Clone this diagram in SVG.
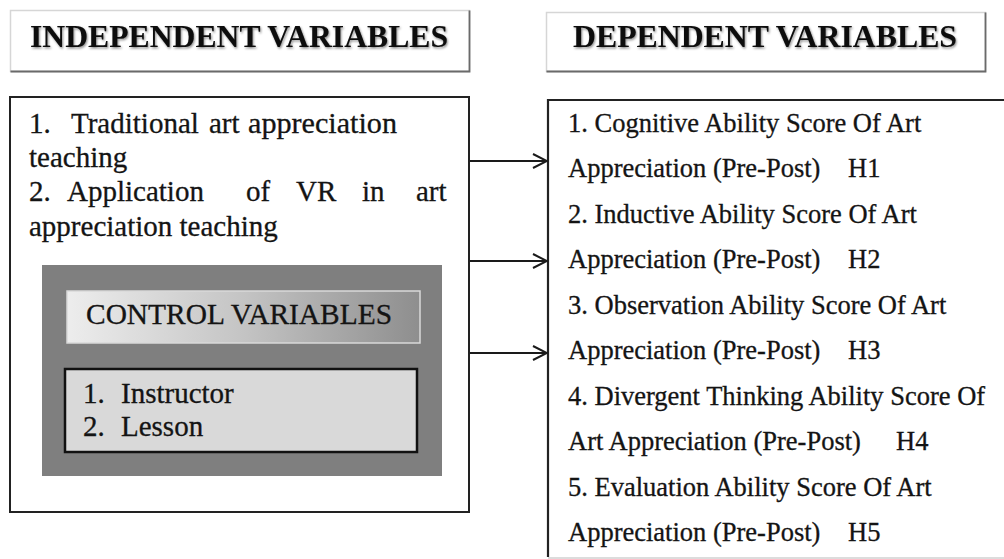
<svg xmlns="http://www.w3.org/2000/svg" width="1004" height="559" viewBox="0 0 1004 559">
<style>
.hdr{font-family:"Liberation Serif","Times New Roman",serif;font-weight:bold;font-size:30.5px;fill:#0a0a0a}
.body{font-family:"Liberation Serif","Times New Roman",serif;font-size:29px;fill:#141414;stroke:#141414;stroke-width:0.3}
.rt{font-family:"Liberation Serif","Times New Roman",serif;font-size:26.5px;fill:#141414;stroke:#141414;stroke-width:0.3}
.conn{stroke:#1a1a1a;stroke-width:2;fill:none}
</style>
<defs>
<linearGradient id="cvg" x1="0" y1="0" x2="1" y2="0">
<stop offset="0" stop-color="#ededed"/>
<stop offset="0.5" stop-color="#c4c4c4"/>
<stop offset="1" stop-color="#8e8e8e"/>
</linearGradient>
<filter id="sh" x="-5%" y="-20%" width="110%" height="140%">
<feDropShadow dx="1" dy="1.5" stdDeviation="1.2" flood-color="#000" flood-opacity="0.45"/>
</filter>
<marker id="arr" viewBox="0 0 16 16" refX="15" refY="8" markerWidth="16" markerHeight="16" markerUnits="userSpaceOnUse" orient="auto">
<path d="M1,1 L15,8 L1,15" fill="none" stroke="#1a1a1a" stroke-width="2"/>
</marker>
</defs>
<rect width="1004" height="559" fill="#fff"/>

<g id="independent-header">
<rect x="10.5" y="10.5" width="459" height="61" fill="#fff" stroke="#d6d6d6" stroke-width="1.5"/>
<path d="M10.5,71.5 H469.5 V10.5" fill="none" stroke="#6a6a6a" stroke-width="1.8"/>
<text class="hdr" x="30" y="47" textLength="418" lengthAdjust="spacingAndGlyphs" filter="url(#sh)">INDEPENDENT VARIABLES</text>
</g>

<g id="dependent-header">
<rect x="546.5" y="12.5" width="439" height="59" fill="#fff" stroke="#d6d6d6" stroke-width="1.5"/>
<path d="M546.5,71.5 H985.5 V12.5" fill="none" stroke="#6a6a6a" stroke-width="1.8"/>
<text class="hdr" x="573" y="47" textLength="384" lengthAdjust="spacingAndGlyphs" filter="url(#sh)">DEPENDENT VARIABLES</text>
</g>

<g id="independent-box">
<rect x="10" y="97" width="459" height="415" fill="#fff" stroke="#222" stroke-width="2"/>
<text class="body" x="29" y="133">1.</text>
<text class="body" x="71" y="133">Traditional</text>
<text class="body" x="209" y="133">art</text>
<text class="body" x="248" y="133" textLength="149" lengthAdjust="spacingAndGlyphs">appreciation</text>
<text class="body" x="29" y="167">teaching</text>
<text class="body" x="29" y="201">2.</text>
<text class="body" x="67" y="201">Application</text>
<text class="body" x="246" y="201">of</text>
<text class="body" x="296" y="201">VR</text>
<text class="body" x="362" y="201">in</text>
<text class="body" x="416" y="201">art</text>
<text class="body" x="29" y="236">appreciation teaching</text>
</g>

<g id="control-panel">
<rect x="42" y="265" width="400" height="211" fill="#7f7f7f"/>
</g>

<g id="control-header">
<rect x="67" y="291" width="353" height="52" fill="url(#cvg)" stroke="#d9d9d9" stroke-width="1.5"/>
<text class="body" x="86" y="324" textLength="306" lengthAdjust="spacingAndGlyphs">CONTROL VARIABLES</text>
</g>

<g id="control-items">
<rect x="65" y="369" width="352" height="83" fill="#d9d9d9" stroke="#111" stroke-width="2.5"/>
<text class="body" x="83" y="403">1.</text>
<text class="body" x="121" y="403">Instructor</text>
<text class="body" x="83" y="436">2.</text>
<text class="body" x="121" y="436">Lesson</text>
</g>

<g id="dependent-box">
<path d="M1010,100 H548 V557" fill="none" stroke="#222" stroke-width="2.2"/>
<line x1="548" y1="558" x2="1004" y2="558" stroke="#d0d0d0" stroke-width="1.5"/>
<text class="rt" x="568" y="132">1. Cognitive Ability Score Of Art</text>
<text class="rt" x="568" y="177">Appreciation (Pre-Post)</text>
<text class="rt" x="848" y="177">H1</text>
<text class="rt" x="568" y="223">2. Inductive Ability Score Of Art</text>
<text class="rt" x="568" y="268">Appreciation (Pre-Post)</text>
<text class="rt" x="848" y="268">H2</text>
<text class="rt" x="568" y="314">3. Observation Ability Score Of Art</text>
<text class="rt" x="568" y="359">Appreciation (Pre-Post)</text>
<text class="rt" x="848" y="359">H3</text>
<text class="rt" x="568" y="405">4. Divergent Thinking Ability Score Of</text>
<text class="rt" x="568" y="450">Art Appreciation (Pre-Post)</text>
<text class="rt" x="896" y="450">H4</text>
<text class="rt" x="568" y="496">5. Evaluation Ability Score Of Art</text>
<text class="rt" x="568" y="541">Appreciation (Pre-Post)</text>
<text class="rt" x="848" y="541">H5</text>
</g>

<g id="connectors">
<line class="conn" x1="470" y1="161" x2="547" y2="161" marker-end="url(#arr)"/>
<line class="conn" x1="470" y1="261" x2="547" y2="261" marker-end="url(#arr)"/>
<line class="conn" x1="470" y1="353" x2="547" y2="353" marker-end="url(#arr)"/>
</g>
</svg>
